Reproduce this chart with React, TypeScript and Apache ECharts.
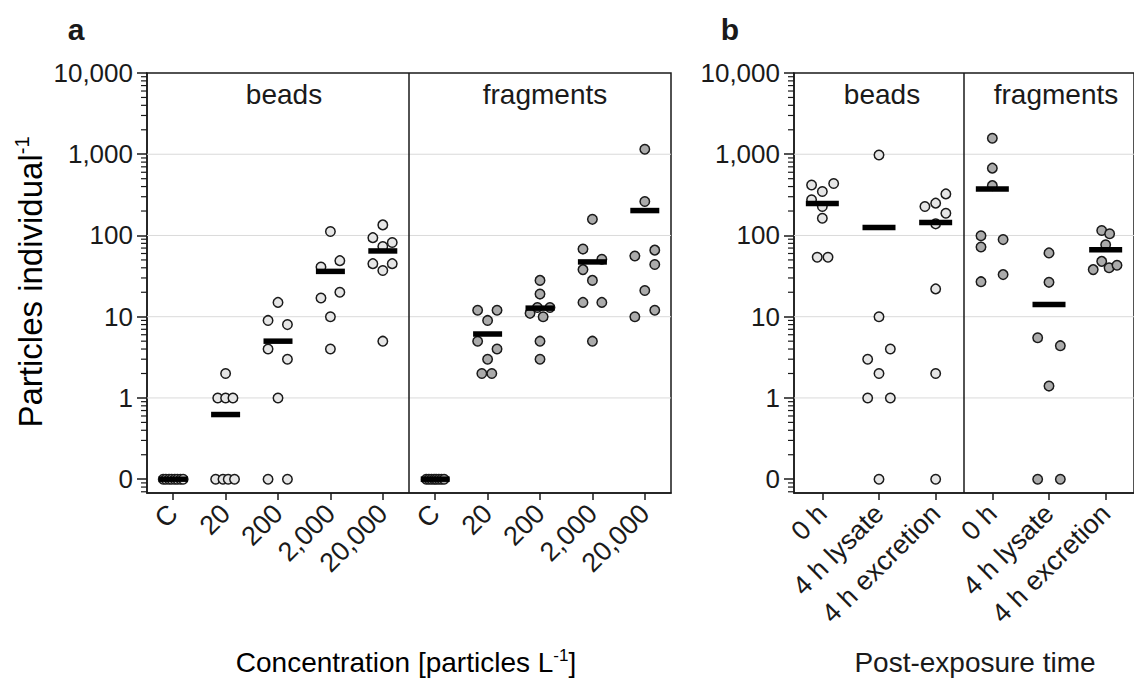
import React, { useEffect, useRef } from "react";
import * as echarts from "echarts";

// ---------- data ----------
const concentrationLabels = ["C", "20", "200", "2,000", "20,000"];
const timeLabels = ["0 h", "4 h lysate", "4 h excretion"];
const yTickValues = [0, 1, 10, 100, 1000, 10000];
const yTickLabels = ["0", "1", "10", "100", "1,000", "10,000"];

// panel a – beads (per concentration)
const beadsConcValues = [
  [0, 0, 0, 0, 0, 0, 0, 0],
  [2, 1, 1, 1, 0, 0, 0, 0],
  [15, 9, 8, 4, 3, 1, 0, 0],
  [112, 49, 41, 20, 17, 10, 4],
  [135, 94, 82, 73, 45, 45, 37, 5],
];
const beadsConcJitter = [
  [-0.19, -0.14, -0.08, -0.03, 0.03, 0.08, 0.14, 0.19],
  [0, -0.15, 0, 0.14, -0.19, -0.05, 0.05, 0.17],
  [0, -0.19, 0.18, -0.19, 0.18, 0, -0.19, 0.18],
  [0, 0.18, -0.18, 0.18, -0.18, 0, 0],
  [0, -0.19, 0.18, 0, -0.19, 0.18, 0, 0],
];
// panel a – fragments
const fragmentsConcValues = [
  [0, 0, 0, 0, 0, 0, 0, 0],
  [12, 12, 9, 5, 4, 3, 2, 2],
  [28, 19, 13, 13, 11, 10, 5, 3],
  [158, 68, 51, 38, 28, 15, 15, 5],
  [1150, 262, 66, 56, 44, 21, 12, 10],
];
const fragmentsConcJitter = [
  [-0.17, -0.12, -0.07, -0.02, 0.02, 0.07, 0.12, 0.17],
  [-0.19, 0.18, 0, -0.19, 0.18, 0, -0.11, 0.08],
  [0, 0, -0.05, 0.19, -0.19, 0.06, 0, 0],
  [0, -0.18, 0.18, -0.18, 0, -0.18, 0.18, 0],
  [0, 0, 0.19, -0.19, 0.19, 0, 0.19, -0.19],
];
// panel b – beads (post-exposure time)
const beadsTimeValues = [
  [418, 437, 348, 275, 227, 163, 54, 54],
  [980, 10, 4, 3, 2, 1, 1, 0],
  [325, 250, 227, 188, 139, 22, 2, 0],
];
const beadsTimeJitter = [
  [-0.19, 0.2, 0, -0.19, 0, 0, -0.09, 0.1],
  [0, 0, 0.2, -0.2, 0, -0.2, 0.2, 0],
  [0.18, 0, -0.19, 0.18, 0, 0, 0, 0],
];
// panel b – fragments
const fragmentsTimeValues = [
  [1574, 674, 411, 99, 89, 72, 33, 27],
  [61, 26.5, 5.5, 4.4, 1.4, 0, 0],
  [115, 105, 77, 48, 38, 40, 43],
];
const fragmentsTimeJitter = [
  [0, 0, 0, -0.2, 0.19, -0.2, 0.19, -0.2],
  [0, 0, -0.2, 0.2, 0, -0.2, 0.2],
  [-0.07, 0.07, 0, -0.07, -0.22, 0.06, 0.2],
];

// ---------- helpers ----------
const FONT = "Liberation Sans, Arial, sans-serif";
const INK = "#1a1a1a";
const BEAD_FILL = "#e6e6e6";
const FRAG_FILL = "#ababab";
const Y_MIN = -1.17;
const Y_MAX = 4;

// log scale with a break: value 0 drawn one decade below 1
const toPos = (v: number) => (v > 0 ? Math.log10(v) : -1);
const yTickPos = yTickValues.map(toPos);
const minorPos: number[] = [];
for (let d = -2; d <= 3; d++) {
  for (let k = 2; k <= 9; k++) {
    const p = Math.log10(k) + d;
    if (p > Y_MIN && p < Y_MAX) minorPos.push(p);
  }
}

const points = (groups: number[][], jitter: number[][], offset: number) => {
  const out: number[][] = [];
  groups.forEach((g, i) =>
    g.forEach((v, j) => out.push([offset + i + 1 + jitter[i][j], toPos(v)]))
  );
  return out;
};
const means = (groups: number[][], offset: number) =>
  groups.map((g, i) => [
    offset + i + 1,
    toPos(g.reduce((a, b) => a + b, 0) / g.length),
  ]);

const yAxisFor = (gridIndex: number) => ({
  type: "value",
  gridIndex,
  min: Y_MIN,
  max: Y_MAX,
  axisLine: { show: true, onZero: false, lineStyle: { color: INK, width: 1.5 } },
  axisTick: {
    show: true,
    length: 10,
    customValues: yTickPos,
    lineStyle: { color: INK, width: 1.5 },
  },
  axisLabel: {
    customValues: yTickPos,
    margin: 14,
    fontSize: 26,
    color: INK,
    fontFamily: FONT,
    formatter: (v: number) => {
      const i = yTickPos.findIndex((p) => Math.abs(p - v) < 1e-6);
      return i >= 0 ? yTickLabels[i] : "";
    },
  },
  splitLine: { show: false },
});

const xAxisFor = (gridIndex: number, labels: string[], n: number) => {
  const vals = Array.from({ length: n }, (_, i) => i + 1);
  return {
    type: "value",
    gridIndex,
    min: 0.5,
    max: n + 0.5,
    axisLine: { show: true, onZero: false, lineStyle: { color: INK, width: 1.5 } },
    axisTick: {
      show: true,
      length: 7,
      customValues: vals,
      lineStyle: { color: INK, width: 1.5 },
    },
    axisLabel: {
      customValues: vals,
      rotate: 45,
      margin: 16,
      fontSize: 27,
      color: INK,
      fontFamily: FONT,
      formatter: (v: number) => labels[(Math.round(v) - 1) % labels.length],
    },
    splitLine: { show: false },
  };
};

// light horizontal gridlines (behind the points)
const gridLineSeries = (idx: number) => ({
  type: "custom",
  xAxisIndex: idx,
  yAxisIndex: idx,
  z: 1,
  silent: true,
  data: [0, 1, 2, 3].map((p) => [1, p]),
  renderItem: (params: any, api: any) => {
    const cs = params.coordSys;
    const y = api.coord([1, api.value(1)])[1];
    return {
      type: "line",
      shape: { x1: cs.x, y1: y, x2: cs.x + cs.width, y2: y },
      style: { stroke: "#dadada", lineWidth: 1 },
    };
  },
});

// logarithmic minor ticks outside the left axis
const minorTickSeries = (idx: number) => ({
  type: "custom",
  xAxisIndex: idx,
  yAxisIndex: idx,
  z: 5,
  silent: true,
  clip: false,
  data: minorPos.map((p) => [1, p]),
  renderItem: (params: any, api: any) => {
    const cs = params.coordSys;
    const y = api.coord([1, api.value(1)])[1];
    return {
      type: "rect",
      shape: { x: cs.x - 6, y: y - 0.6, width: 6, height: 1.2 },
      style: { fill: INK },
    };
  },
});

const scatter = (idx: number, data: number[][], fill: string) => ({
  type: "scatter",
  xAxisIndex: idx,
  yAxisIndex: idx,
  z: 3,
  symbol: "circle",
  symbolSize: 9.5,
  itemStyle: { color: fill, borderColor: INK, borderWidth: 1.5, opacity: 1 },
  data,
});

const meanSeries = (idx: number, data: number[][], w: number, divider: number) => ({
  type: "scatter",
  xAxisIndex: idx,
  yAxisIndex: idx,
  z: 4,
  symbol: "rect",
  symbolSize: [w, 5.5],
  itemStyle: { color: "#000000", opacity: 1 },
  data,
  markLine: {
    silent: true,
    symbol: ["none", "none"],
    label: { show: false },
    lineStyle: { color: INK, width: 1.5, type: "solid", opacity: 1 },
    data: [{ xAxis: divider }],
  },
});

const text = (x: number, y: number, t: string, size: number, bold = false) => ({
  type: "text",
  x,
  y,
  style: {
    text: t,
    fontSize: size,
    fontWeight: bold ? "bold" : "normal",
    fontFamily: FONT,
    fill: INK,
    align: "center",
    verticalAlign: "middle",
  },
});

const rich = (size: number) => ({
  n: { fontSize: size, fontFamily: FONT, color: INK },
  s: {
    fontSize: Math.round(size * 0.62),
    fontFamily: FONT,
    color: INK,
    verticalAlign: "top",
    padding: [0, 0, Math.round(size * 0.5), 0],
  },
});

export default function App() {
  const ref = useRef<HTMLDivElement>(null);
  useEffect(() => {
    if (!ref.current) return;
    const chart = echarts.init(ref.current, null, { renderer: "svg" });
    const option: any = {
      animation: false,
      backgroundColor: "#ffffff",
      grid: [
        { left: 147, top: 73, width: 524, height: 420, show: true, borderColor: INK, borderWidth: 1.5, backgroundColor: "transparent" },
        { left: 794, top: 73, width: 350.4, height: 420, show: true, borderColor: INK, borderWidth: 1.5, backgroundColor: "transparent" },
      ],
      xAxis: [xAxisFor(0, concentrationLabels, 10), xAxisFor(1, timeLabels, 6)],
      yAxis: [yAxisFor(0), yAxisFor(1)],
      series: [
        gridLineSeries(0),
        gridLineSeries(1),
        minorTickSeries(0),
        minorTickSeries(1),
        scatter(0, points(beadsConcValues, beadsConcJitter, 0), BEAD_FILL),
        scatter(0, points(fragmentsConcValues, fragmentsConcJitter, 5), FRAG_FILL),
        scatter(1, points(beadsTimeValues, beadsTimeJitter, 0), BEAD_FILL),
        scatter(1, points(fragmentsTimeValues, fragmentsTimeJitter, 3), FRAG_FILL),
        meanSeries(0, [...means(beadsConcValues, 0), ...means(fragmentsConcValues, 5)], 29, 5.5),
        meanSeries(1, [...means(beadsTimeValues, 0), ...means(fragmentsTimeValues, 3)], 33, 3.5),
      ],
      graphic: [
        text(76, 29, "a", 30, true),
        text(730, 29, "b", 30, true),
        text(284, 94, "beads", 28),
        text(545, 94, "fragments", 28),
        text(882, 94, "beads", 28),
        text(1056, 94, "fragments", 28),
        {
          type: "text",
          x: 30,
          y: 282,
          rotation: Math.PI / 2,
          style: {
            text: "{n|Particles individual}{s|-1}",
            rich: rich(33),
            align: "center",
            verticalAlign: "middle",
            fontFamily: FONT,
          },
        },
        {
          type: "text",
          x: 406,
          y: 662,
          style: {
            text: "{n|Concentration [particles L}{s|-1}{n|]}",
            rich: rich(28),
            align: "center",
            verticalAlign: "middle",
            fontFamily: FONT,
          },
        },
        text(975, 662, "Post-exposure time", 28),
      ],
    };
    chart.setOption(option);
    return () => chart.dispose();
  }, []);
  return (
    <div
      ref={ref}
      style={{ position: "absolute", left: 0, top: 0, width: 1134, height: 686 }}
    />
  );
}
